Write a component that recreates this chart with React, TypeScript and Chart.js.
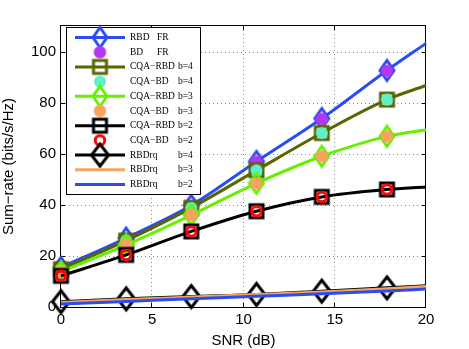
import React, { useEffect, useRef } from 'react';
import { Chart, registerables } from 'chart.js';

Chart.register(...registerables);

// ---------- data ----------
const snrLine = [0, 3.57, 7.14, 10.71, 14.29, 17.86, 20];
const snrMarkers = [0, 3.57, 7.14, 10.71, 14.29, 17.86];
const xTickValues = [0, 5, 10, 15, 20];
const yTickValues = [0, 20, 40, 60, 80, 100];

const rbdFR = [15.5, 27.0, 39.8, 57.0, 73.8, 92.6, 103.2];
const bdFR = [15.3, 26.6, 39.4, 56.8, 73.6, 92.4];
const cqaRbd4 = [14.8, 26.0, 38.8, 53.5, 68.1, 81.2, 86.7];
const cqaBd4 = [14.8, 26.0, 38.8, 53.5, 68.1, 81.2];
const cqaRbd3 = [13.8, 24.3, 36.0, 48.4, 59.0, 66.8, 69.4];
const cqaBd3 = [13.8, 24.3, 36.0, 48.4, 59.0, 66.8];
const cqaRbd2 = [12.2, 20.4, 29.6, 37.5, 43.1, 46.0, 47.0];
const cqaBd2 = [12.2, 20.4, 29.6, 37.5, 43.1, 46.0];
const rbdrq4 = [2.1, 3.2, 4.1, 4.9, 6.2, 7.5, 8.3];
const rbdrq3 = [1.8, 2.9, 3.9, 4.9, 5.9, 7.1, 8.0];
const rbdrq2 = [1.2, 2.2, 3.2, 4.2, 5.2, 6.3, 7.0];

const legendNames = [
  ['RBD', 'FR'],
  ['BD', 'FR'],
  ['CQA\u2212RBD', 'b=4'],
  ['CQA\u2212BD', 'b=4'],
  ['CQA\u2212RBD', 'b=3'],
  ['CQA\u2212BD', 'b=3'],
  ['CQA\u2212RBD', 'b=2'],
  ['CQA\u2212BD', 'b=2'],
  ['RBDrq', 'b=4'],
  ['RBDrq', 'b=3'],
  ['RBDrq', 'b=2'],
];

// ---------- styles ----------
const C_BLUE = '#2b4cf2';
const C_PURPLE = '#b436f0';
const C_OLIVE = '#586600';
const C_AQUA = '#5ef0c6';
const C_LIME = '#66f000';
const C_ORANGE = '#f7a35e';
const C_BLACK = '#000000';
const C_RED = '#ff0000';
const C_SANDY = '#f4a460';

type Kind = 'diamond' | 'square' | 'disc' | 'ring' | 'none';

function makeMarker(kind: Kind, w: number, h: number, color: string, lw: number): HTMLCanvasElement {
  const pad = lw + 3;
  const c = document.createElement('canvas');
  c.width = Math.round(w + pad * 2);
  c.height = Math.round(h + pad * 2);
  const g = c.getContext('2d')!;
  const cx = c.width / 2;
  const cy = c.height / 2;
  g.lineWidth = lw;
  g.strokeStyle = color;
  g.fillStyle = color;
  g.lineJoin = 'miter';
  g.beginPath();
  if (kind === 'diamond') {
    g.moveTo(cx, cy - h / 2);
    g.lineTo(cx + w / 2, cy);
    g.lineTo(cx, cy + h / 2);
    g.lineTo(cx - w / 2, cy);
    g.closePath();
    g.stroke();
  } else if (kind === 'square') {
    g.rect(cx - w / 2, cy - h / 2, w, h);
    g.stroke();
  } else if (kind === 'disc') {
    g.arc(cx, cy, w / 2, 0, Math.PI * 2);
    g.fill();
  } else if (kind === 'ring') {
    g.arc(cx, cy, w / 2, 0, Math.PI * 2);
    g.stroke();
  }
  return c;
}

export default function App() {
  const ref = useRef<HTMLCanvasElement>(null);

  useEffect(() => {
    const canvas = ref.current;
    if (!canvas) return;

    const mBlueDia = makeMarker('diamond', 14, 20, C_BLUE, 3);
    const mPurple = makeMarker('disc', 12.5, 12.5, C_PURPLE, 0);
    const mOliveSq = makeMarker('square', 13, 13, C_OLIVE, 3);
    const mAqua = makeMarker('disc', 12, 12, C_AQUA, 0);
    const mLimeDia = makeMarker('diamond', 14, 20, C_LIME, 3);
    const mOrange = makeMarker('disc', 12.5, 12.5, C_ORANGE, 0);
    const mBlackSq = makeMarker('square', 13, 13, C_BLACK, 3);
    const mRedRing = makeMarker('ring', 9.5, 9.5, C_RED, 3);
    const mBlackDia = makeMarker('diamond', 17, 22, C_BLACK, 3);

    const lineSeries = (vals: number[]) => snrLine.map((x, i) => ({ x, y: vals[i] }));
    const markSeries = (vals: number[]) => snrMarkers.map((x, i) => ({ x, y: vals[i] }));
    const rad7 = [8, 8, 8, 8, 8, 8, 0];

    const specs: any[] = [
      { data: lineSeries(rbdFR), color: C_BLUE, marker: mBlueDia, line: true },
      { data: markSeries(bdFR), color: C_PURPLE, marker: mPurple, line: false },
      { data: lineSeries(cqaRbd4), color: C_OLIVE, marker: mOliveSq, line: true },
      { data: markSeries(cqaBd4), color: C_AQUA, marker: mAqua, line: false },
      { data: lineSeries(cqaRbd3), color: C_LIME, marker: mLimeDia, line: true },
      { data: markSeries(cqaBd3), color: C_ORANGE, marker: mOrange, line: false },
      { data: lineSeries(cqaRbd2), color: C_BLACK, marker: mBlackSq, line: true },
      { data: markSeries(cqaBd2), color: C_RED, marker: mRedRing, line: false },
      { data: lineSeries(rbdrq4), color: C_BLACK, marker: mBlackDia, line: true },
      { data: lineSeries(rbdrq3), color: C_SANDY, marker: null, line: true },
      { data: lineSeries(rbdrq2), color: C_BLUE, marker: null, line: true },
    ];

    const datasets = specs.map((s, i) => ({
      label: legendNames[i].join(' '),
      data: s.data,
      showLine: s.line,
      borderColor: s.color,
      backgroundColor: s.color,
      borderWidth: 3,
      fill: false,
      cubicInterpolationMode: 'monotone' as const,
      pointStyle: s.marker || 'circle',
      pointRadius: s.marker ? (s.line ? rad7 : 8) : 0,
      pointHoverRadius: 0,
      clip: false as any,
      order: -i,
    }));

    const sans = '"Liberation Sans", Arial, Helvetica, sans-serif';

    const framePlugin = {
      id: 'matlabFrame',
      beforeDatasetsDraw(chart: any) {
        const { ctx, chartArea: a, scales } = chart;
        ctx.save();
        // dotted grid
        ctx.strokeStyle = '#8c8c8c';
        ctx.lineWidth = 1;
        ctx.setLineDash([1, 3]);
        for (const v of xTickValues) {
          if (v === xTickValues[0] || v === xTickValues[xTickValues.length - 1]) continue;
          const px = Math.round(scales.x.getPixelForValue(v)) - 0.5;
          ctx.beginPath();
          ctx.moveTo(px, a.top);
          ctx.lineTo(px, a.bottom);
          ctx.stroke();
        }
        for (const v of yTickValues) {
          if (v === 0) continue;
          const py = Math.round(scales.y.getPixelForValue(v)) + 0.5;
          ctx.beginPath();
          ctx.moveTo(a.left, py);
          ctx.lineTo(a.right, py);
          ctx.stroke();
        }
        ctx.setLineDash([]);
        // box
        ctx.strokeStyle = '#000';
        ctx.lineWidth = 1;
        ctx.strokeRect(a.left - 0.5, a.top - 0.5, a.right - a.left, a.bottom - a.top + 1);
        // inward ticks
        const tl = 4;
        ctx.beginPath();
        for (const v of xTickValues) {
          const px = Math.round(scales.x.getPixelForValue(v)) - 0.5;
          ctx.moveTo(px, a.bottom);
          ctx.lineTo(px, a.bottom - tl);
          ctx.moveTo(px, a.top);
          ctx.lineTo(px, a.top + tl);
        }
        for (const v of yTickValues) {
          const py = Math.round(scales.y.getPixelForValue(v)) + 0.5;
          ctx.moveTo(a.left, py);
          ctx.lineTo(a.left + tl, py);
          ctx.moveTo(a.right, py);
          ctx.lineTo(a.right - tl, py);
        }
        ctx.stroke();
        ctx.restore();
      },
      afterDatasetsDraw(chart: any) {
        const { ctx } = chart;
        ctx.save();
        const bx = 66.5, by = 27.5, bw = 134, bh = 167;
        ctx.fillStyle = '#fff';
        ctx.fillRect(bx, by, bw, bh);
        ctx.strokeStyle = '#000';
        ctx.lineWidth = 1;
        ctx.strokeRect(bx, by, bw, bh);
        ctx.font = '9.5px "Liberation Serif", "Times New Roman", serif';
        ctx.textBaseline = 'middle';
        ctx.textAlign = 'left';
        specs.forEach((s, i) => {
          const y = 37.5 + i * 14.7;
          if (s.line) {
            ctx.strokeStyle = s.color;
            ctx.lineWidth = 3;
            ctx.beginPath();
            ctx.moveTo(75, y);
            ctx.lineTo(125, y);
            ctx.stroke();
          }
          if (s.marker) {
            const m: HTMLCanvasElement = s.marker;
            ctx.drawImage(m, 100 - m.width / 2, y - m.height / 2);
          }
          ctx.fillStyle = '#000';
          const [name, suf] = legendNames[i];
          ctx.fillText(name, 130, y);
          ctx.fillText(suf, suf === 'FR' ? 157 : 178, y);
        });
        ctx.restore();
      },
    };

    const chart = new Chart(canvas, {
      type: 'line',
      data: { datasets },
      plugins: [framePlugin],
      options: {
        animation: false,
        responsive: false,
        devicePixelRatio: 1,
        events: [],
        layout: { padding: { top: 26, right: 43, bottom: 0, left: 0 } },
        plugins: {
          legend: { display: false },
          tooltip: { enabled: false },
        },
        scales: {
          x: {
            type: 'linear',
            min: 0,
            max: 20,
            afterFit: (s: any) => {
              s.height = 42;
            },
            afterBuildTicks: (s: any) => {
              s.ticks = xTickValues.map((v) => ({ value: v }));
            },
            grid: { display: false, drawTicks: false },
            border: { display: false },
            ticks: {
              color: '#000',
              padding: 4,
              maxRotation: 0,
              font: { family: sans, size: 15 },
            },
            title: {
              display: true,
              text: 'SNR (dB)',
              color: '#000',
              padding: { top: 0, bottom: -1 },
              font: { family: sans, size: 15 },
            },
          },
          y: {
            type: 'linear',
            min: 0,
            max: 110,
            afterFit: (s: any) => {
              s.width = 61;
            },
            afterBuildTicks: (s: any) => {
              s.ticks = yTickValues.map((v) => ({ value: v }));
            },
            grid: { display: false, drawTicks: false },
            border: { display: false },
            ticks: {
              color: '#000',
              padding: 5,
              font: { family: sans, size: 15 },
            },
            title: {
              display: true,
              text: 'Sum\u2212rate (bits/s/Hz)',
              color: '#000',
              padding: { top: 0, bottom: 7 },
              font: { family: sans, size: 15 },
            },
          },
        },
      } as any,
    });

    return () => {
      chart.destroy();
    };
  }, []);

  return (
    <div style={{ position: 'fixed', left: 0, top: 0, width: 469, height: 349, background: '#fff' }}>
      <canvas ref={ref} width={469} height={349} style={{ display: 'block', width: 469, height: 349 }} />
    </div>
  );
}
